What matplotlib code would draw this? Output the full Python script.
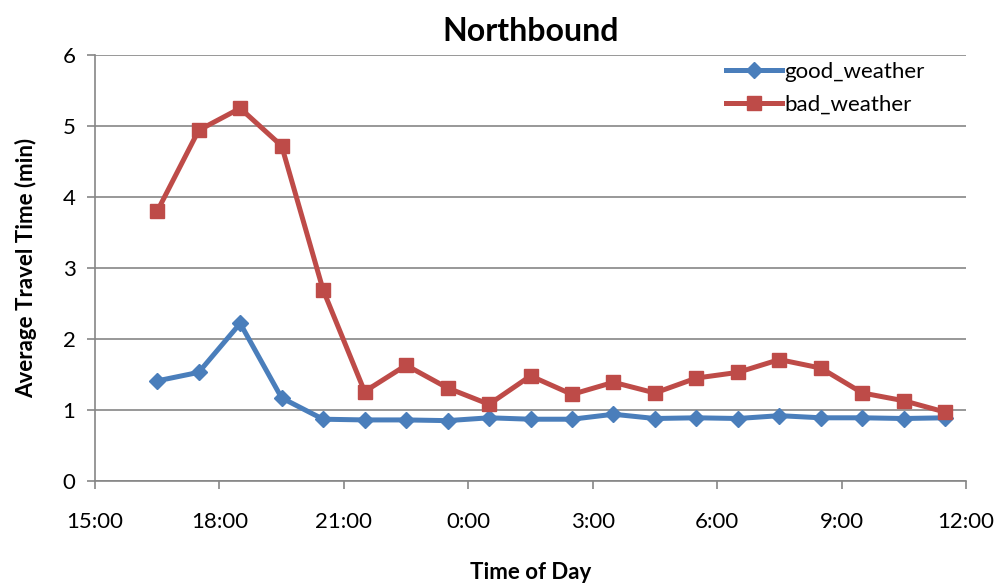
#!/usr/bin/env python3
"""Northbound average travel time by time of day, good vs bad weather."""

import matplotlib

matplotlib.use("Agg")
import matplotlib.pyplot as plt

# hourly samples, 16:30 through 11:30 next morning
TIMES = [
    "16:30", "17:30", "18:30", "19:30", "20:30", "21:30", "22:30", "23:30",
    "0:30", "1:30", "2:30", "3:30", "4:30", "5:30", "6:30", "7:30",
    "8:30", "9:30", "10:30", "11:30",
]
GOOD_WEATHER = [
    1.41, 1.53, 2.22, 1.17, 0.87, 0.86, 0.86, 0.85, 0.89, 0.87,
    0.87, 0.94, 0.88, 0.89, 0.88, 0.92, 0.89, 0.89, 0.88, 0.89,
]
BAD_WEATHER = [
    3.80, 4.94, 5.25, 4.72, 2.69, 1.26, 1.63, 1.31, 1.08, 1.48,
    1.22, 1.39, 1.24, 1.45, 1.53, 1.71, 1.59, 1.24, 1.13, 0.97,
]
TICK_LABELS = ["15:00", "18:00", "21:00", "0:00", "3:00", "6:00", "9:00", "12:00"]

START_HOUR = 15
BLUE = "#4A7EBB"
RED = "#BE4B48"
GRID = "#868686"
FONT = "Lato"


def to_hours(label: str, end: bool = False) -> float:
    h, m = label.split(":")
    value = int(h) + int(m) / 60
    if value < START_HOUR or (end and value <= START_HOUR):
        value += 24
    return value


def main() -> None:
    x = [to_hours(t) for t in TIMES]
    ticks = [to_hours(t) for t in TICK_LABELS[:-1]] + [to_hours(TICK_LABELS[-1], end=True)]

    fig = plt.figure(figsize=(9.99, 5.84), dpi=100)
    ax = fig.add_axes([0.0951, 0.1764, 0.8719, 0.7294])

    ax.plot(x, GOOD_WEATHER, color=BLUE, lw=3.6, marker="D", ms=8.5,
            label="good_weather", zorder=3)
    ax.plot(x, BAD_WEATHER, color=RED, lw=3.6, marker="s", ms=10,
            label="bad_weather", zorder=3)

    ax.set_xlim(ticks[0], ticks[-1])
    ax.set_ylim(0, 6)
    ax.set_xticks(ticks)
    ax.set_xticklabels(TICK_LABELS, fontsize=16, family=FONT)
    ax.set_yticks(range(7))
    ax.set_yticklabels([str(v) for v in range(7)], fontsize=16, family=FONT)

    ax.grid(axis="y", color=GRID, lw=1.2)
    ax.set_axisbelow(True)
    for side in ("top", "right"):
        ax.spines[side].set_visible(False)
    for side in ("left", "bottom"):
        ax.spines[side].set_color(GRID)
        ax.spines[side].set_linewidth(1.2)
    ax.tick_params(axis="both", color=GRID, width=1.2, length=6, direction="out")
    ax.tick_params(axis="x", pad=16)
    ax.tick_params(axis="y", pad=8)

    ax.set_title("Northbound", fontsize=23, fontweight="bold", family=FONT, pad=10)
    ax.set_xlabel("Time of Day", fontsize=16, fontweight="bold", family=FONT, labelpad=22)
    ax.set_ylabel("Average Travel Time (min)", fontsize=16, fontweight="bold",
                  family=FONT, labelpad=18)

    ax.legend(loc="upper right", bbox_to_anchor=(0.975, 1.03), frameon=False,
              prop={"family": FONT, "size": 16}, handlelength=2.5,
              handletextpad=0.1, labelspacing=0.55)

    fig.savefig("out.png", dpi=100)
    plt.close(fig)


if __name__ == "__main__":
    main()
